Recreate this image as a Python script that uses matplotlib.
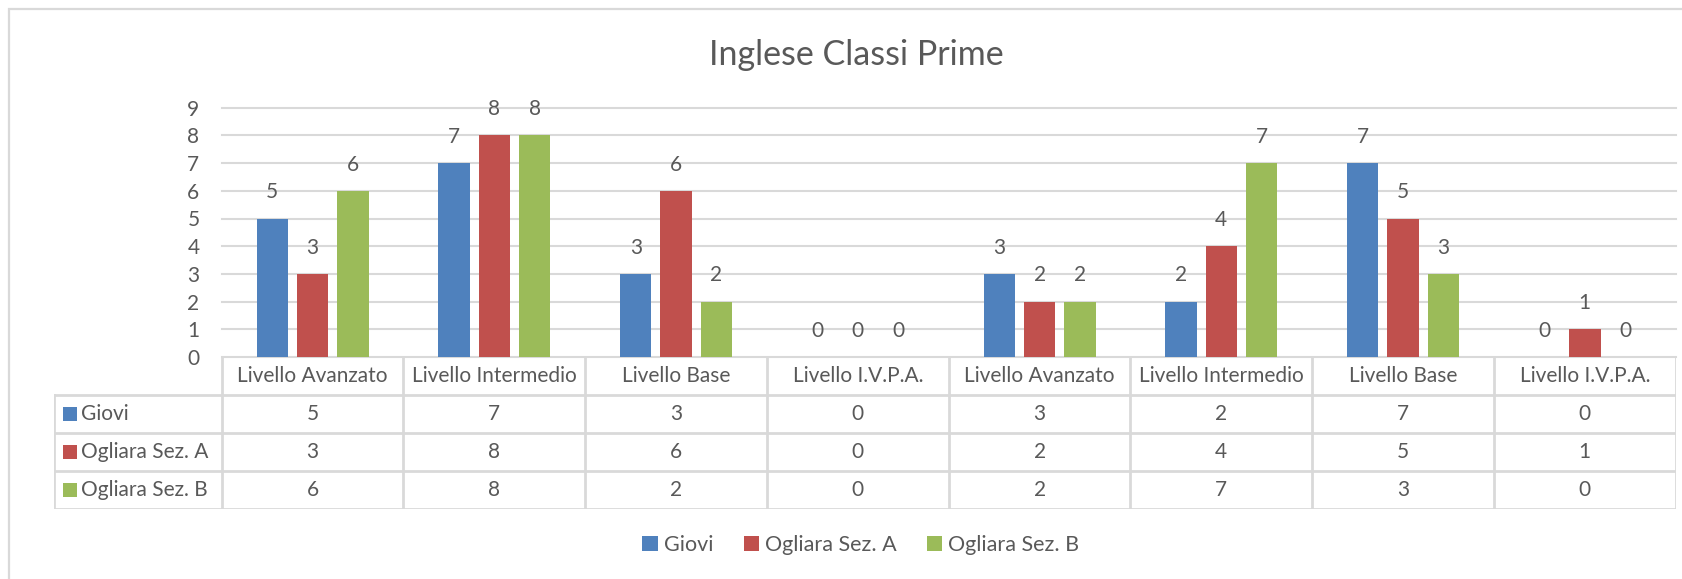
import numpy as np
import matplotlib
matplotlib.use("Agg")
import matplotlib.pyplot as plt
from matplotlib.patches import Rectangle

# ── Data ───────────────────────────────────────────────────────────────────────
TITLE = "Inglese Classi Prime"
categories = [
    "Livello Avanzato", "Livello Intermedio", "Livello Base", "Livello I.V.P.A.",
    "Livello Avanzato", "Livello Intermedio", "Livello Base", "Livello I.V.P.A.",
]
series_names = ["Giovi", "Ogliara Sez. A", "Ogliara Sez. B"]
giovi      = [5, 7, 3, 0, 3, 2, 7, 0]
ogliara_a  = [3, 8, 6, 0, 2, 4, 5, 1]
ogliara_b  = [6, 8, 2, 0, 2, 7, 3, 0]
y_ticks    = list(range(0, 10))

# ── Style ──────────────────────────────────────────────────────────────────────
COLORS = ["#4F81BD", "#C0504D", "#9BBB59"]
TEXT   = "#595959"
GRID   = "#D9D9D9"
FS     = 15

plt.rcParams["font.family"] = ["Lato", "DejaVu Sans"]

W, H = 1683, 579
fig = plt.figure(figsize=(W / 100, H / 100), dpi=100)


def fx(px):
    return px / W


def fy(py):
    return 1 - py / H


# outer chart border (only top/left visible in the crop)
fig.add_artist(Rectangle((fx(9), fy(600)), fx(1700) - fx(9), fy(9) - fy(600),
                         transform=fig.transFigure, fill=False,
                         edgecolor=GRID, lw=1.6))

# ── Plot area ──────────────────────────────────────────────────────────────────
left, right, top, base = 221.7, 1675.7, 107.7, 357.0
col_w = (right - left) / 8
ax = fig.add_axes([fx(left), fy(base), (right - left) / W, (base - top) / H])
ax.set_xlim(0, 8)
ax.set_ylim(0, 9)
for s in ax.spines.values():
    s.set_visible(False)
ax.set_xticks([])
ax.set_yticks(y_ticks)
ax.tick_params(axis="y", length=0, pad=16, labelsize=FS, labelcolor=TEXT)
for t in y_ticks:
    ax.axhline(t, color=GRID, lw=1.5, zorder=0, clip_on=False)

x = np.arange(len(categories)) + 0.5
step, width = 0.222, 0.173
bars = []
for k, vals in enumerate([giovi, ogliara_a, ogliara_b]):
    b = ax.bar(x + (k - 1) * step, vals, width, color=COLORS[k], zorder=2,
               label=series_names[k])
    bars.append(b)
    for xi, v in zip(x + (k - 1) * step, vals):
        ax.annotate(str(v), (xi, v), xytext=(0, 18.8), textcoords="offset points",
                    ha="center", va="center", fontsize=FS, color=TEXT,
                    annotation_clip=False)

fig.text(fx(856.5), fy(65), TITLE, ha="center", va="baseline",
         fontsize=24.5, color=TEXT)

# ── Data table ─────────────────────────────────────────────────────────────────
t_left, t_bottom = 54.0, 509.0
x0 = (left - t_left) / col_w
tax = fig.add_axes([fx(t_left), fy(t_bottom), (right - t_left) / W, (t_bottom - base) / H])
tax.set_xlim(-x0, 8)
tax.set_ylim(4, 0)
tax.axis("off")

for c in range(9):
    tax.plot([c, c], [0, 4], color=GRID, lw=2, solid_capstyle="projecting")
tax.plot([-x0, -x0], [1, 4], color=GRID, lw=2, solid_capstyle="projecting")
for r in range(1, 5):
    tax.plot([-x0, 8], [r, r], color=GRID, lw=2, solid_capstyle="projecting")

for i, cat in enumerate(categories):
    tax.text(i + 0.5, 0.5, cat, ha="center", va="center", fontsize=FS, color=TEXT)

for k, (name, vals) in enumerate(zip(series_names, [giovi, ogliara_a, ogliara_b])):
    yr = k + 1.5
    tax.plot(-x0 + 16 / col_w, yr, marker="s", ms=10, mew=0, color=COLORS[k])
    tax.text(-x0 + 27 / col_w, yr, name, ha="left", va="center",
             fontsize=FS, color=TEXT)
    for i, v in enumerate(vals):
        tax.text(i + 0.5, yr, str(v), ha="center", va="center",
                 fontsize=FS, color=TEXT)

# ── Legend ─────────────────────────────────────────────────────────────────────
leg = fig.legend(handles=bars, labels=series_names, loc="center",
                 bbox_to_anchor=(fx(861), fy(545)), ncol=3, frameon=False,
                 fontsize=FS + 0.5, handlelength=0.7, handleheight=0.7,
                 handletextpad=0.3, columnspacing=1.4, borderaxespad=0)
for t in leg.get_texts():
    t.set_color(TEXT)

fig.savefig("out.png", dpi=100)
